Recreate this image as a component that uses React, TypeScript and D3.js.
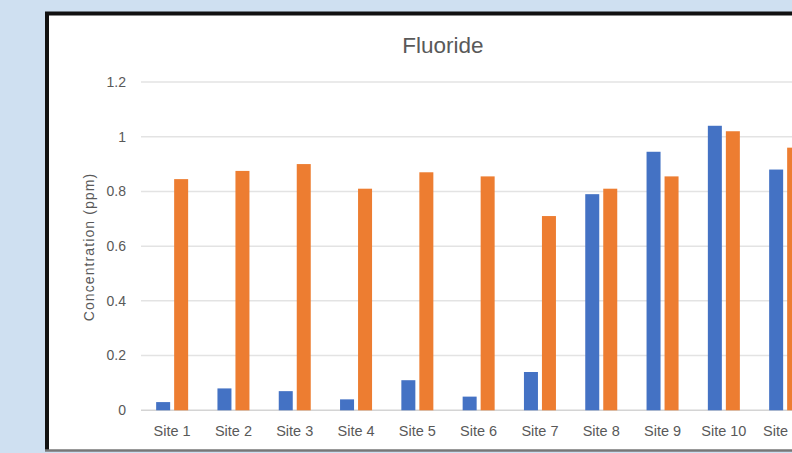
import React from "react";
import * as d3 from "d3";

// Fluoride concentration by sampling site (ppm)
const sites = ["Site 1", "Site 2", "Site 3", "Site 4", "Site 5", "Site 6", "Site 7", "Site 8", "Site 9", "Site 10", "Site 11"];
const seriesKeys = ["blue", "orange"];
const blueValues = [0.03, 0.08, 0.07, 0.04, 0.11, 0.05, 0.14, 0.79, 0.945, 1.04, 0.88];
const orangeValues = [0.845, 0.875, 0.9, 0.81, 0.87, 0.855, 0.71, 0.81, 0.855, 1.02, 0.96];
const yTicks = [0, 0.2, 0.4, 0.6, 0.8, 1, 1.2];
const seriesColors = ["#4472c4", "#ed7d31"];

const W = 792;
const H = 453;
const FONT = "'Liberation Sans', Arial, sans-serif";

export default function App() {
  const x = d3.scaleBand<string>().domain(sites).range([141.5, 141.5 + 61.3 * sites.length]).paddingInner(0).paddingOuter(0);
  const step = x.bandwidth();
  const groupW = 32;
  const inner = d3
    .scaleBand<string>()
    .domain(seriesKeys)
    .range([(step - groupW) / 2, (step + groupW) / 2])
    .paddingInner(4 / 18)
    .paddingOuter(0);
  const y = d3.scaleLinear().domain([0, 1.2]).range([410.3, 82]);

  const series = [blueValues, orangeValues];

  return (
    <div style={{ position: "absolute", left: 0, top: 0, width: W, height: H }}>
      <svg width={W} height={H} style={{ display: "block" }} fontFamily={FONT}>
        <rect x={0} y={0} width={W} height={H} fill="#cfe0f1" />
        {/* chart panel */}
        <rect x={47} y={13} width={W} height={437} fill="#ffffff" />
        <line x1={45} x2={W} y1={13.5} y2={13.5} stroke="#111" strokeWidth={4} />
        <line x1={47} x2={47} y1={12} y2={451} stroke="#111" strokeWidth={4} />
        <line x1={45} x2={W} y1={450.5} y2={450.5} stroke="#777" strokeWidth={2.5} />

        <text x={443} y={53} textAnchor="middle" fontSize={22.5} fill="#595959">
          Fluoride
        </text>

        {/* gridlines and tick labels */}
        {yTicks.map((t) => (
          <g key={t}>
            <line
              x1={141}
              x2={W}
              y1={y(t)}
              y2={y(t)}
              stroke={t === 0 ? "#d4d4d4" : "#e3e3e3"}
              strokeWidth={1.5}
            />
            <text x={126} y={y(t)} dy="0.35em" textAnchor="end" fontSize={14} fill="#595959">
              {String(t)}
            </text>
          </g>
        ))}

        {/* bars */}
        {sites.map((s, i) => (
          <g key={s} transform={`translate(${x(s)},0)`}>
            {series.map((vals, k) => (
              <rect
                key={k}
                x={inner(seriesKeys[k])}
                y={y(vals[i])}
                width={inner.bandwidth()}
                height={y(0) - y(vals[i])}
                fill={seriesColors[k]}
              />
            ))}
            <text x={step / 2} y={436} textAnchor="middle" fontSize={14.5} fill="#595959">
              {s}
            </text>
          </g>
        ))}

        <text
          transform={`translate(94,247) rotate(-90)`}
          textAnchor="middle"
          fontSize={14}
          fill="#595959"
          letterSpacing={1.1}
        >
          Concentration (ppm)
        </text>
      </svg>
    </div>
  );
}
